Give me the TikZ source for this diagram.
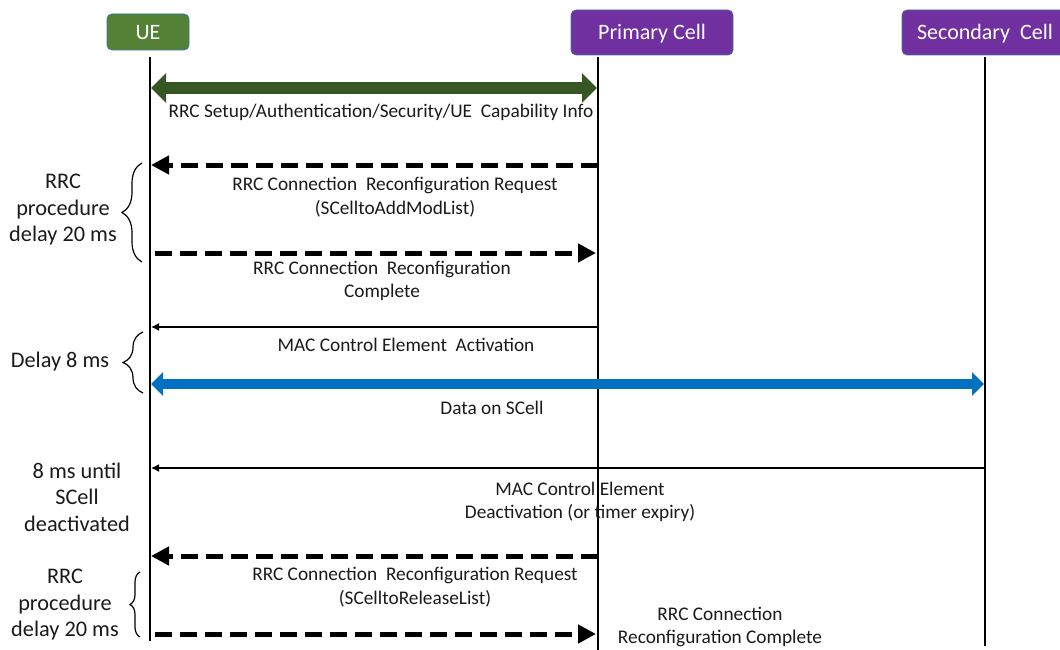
\documentclass[tikz,border=0pt]{standalone}
\usepackage{fontspec}
\setmainfont{Carlito}
\usetikzlibrary{arrows.meta,decorations.pathreplacing}
\definecolor{uegreen}{HTML}{538135}
\definecolor{boxedge}{HTML}{41719C}
\definecolor{cellpurple}{HTML}{7030A0}
\definecolor{setupgreen}{HTML}{375623}
\definecolor{datablue}{HTML}{0070C0}
\definecolor{txt}{HTML}{1A1A1A}
\tikzset{
  entity/.style={rounded corners=5pt, draw=boxedge, line width=0.8pt},
  entitytext/.style={text=white, font=\fontsize{22}{24}\selectfont, inner sep=0pt},
  lifeline/.style={line width=2.6pt, black},
  msg/.style={text=txt, align=center, font=\fontsize{19.3}{23.5}\selectfont, inner sep=0pt},
  side/.style={text=txt, align=center, font=\fontsize{22.3}{26.5}\selectfont, inner sep=0pt},
  setuparrow/.style={line width=12pt, setupgreen,
    {Triangle[length=15pt,width=29pt]}-{Triangle[length=15pt,width=29pt]}},
  dataarrow/.style={line width=10pt, datablue,
    {Triangle[length=12pt,width=23pt]}-{Triangle[length=12pt,width=23pt]}},
  rrcarrow/.style={line width=5pt, black, dash pattern=on 17pt off 8pt,
    -{Triangle[length=18pt,width=18pt]}},
  macarrow/.style={line width=1.5pt, black, -{Latex[length=8pt,width=8pt]}},
  span/.style={decorate, decoration={brace, amplitude=20pt}, line width=1.2pt, black}
}
\begin{document}
\begin{tikzpicture}[x=1pt,y=-1pt]
  \useasboundingbox (0,0) rectangle (1060,650);
  \clip (0,0) rectangle (1060,650);

  % entities
  \path[entity, fill=uegreen] (107,14) rectangle (189,50);
  \node[entitytext] (ue) at (148,33) {UE};
  \path[entity, fill=cellpurple] (571,10) rectangle (733,55);
  \node[entitytext] (pc) at (652,34) {Primary Cell};
  \path[entity, fill=cellpurple] (902,10) rectangle (1068,55);
  \node[entitytext] (sc) at (985,34) {Secondary\ \ Cell};

  % lifelines
  \coordinate (ueTop) at (150,57);  \coordinate (ueBot) at (150,641);
  \coordinate (pcTop) at (598,57);  \coordinate (pcBot) at (598,650);
  \coordinate (scTop) at (985,57);  \coordinate (scBot) at (985,646);
  \draw[lifeline] (ueTop) -- (ueBot);
  \draw[lifeline] (pcTop) -- (pcBot);
  \draw[lifeline] (scTop) -- (scBot);

  % message end points on the lifelines
  \coordinate (u1) at (151,88);  \coordinate (p1) at (597,88);
  \coordinate (u2) at (151,165); \coordinate (p2) at (598,165);
  \coordinate (u3) at (155,253); \coordinate (p3) at (596,253);
  \coordinate (u4) at (151,327); \coordinate (p4) at (597,327);
  \coordinate (u5) at (151,384); \coordinate (s5) at (984,384);
  \coordinate (u6) at (151,468); \coordinate (s6) at (985,468);
  \coordinate (u7) at (151,556); \coordinate (p7) at (598,556);
  \coordinate (u8) at (155,634); \coordinate (p8) at (596,634);

  % messages
  \draw[setuparrow] (u1) -- (p1);
  \node[msg] (l1) at (381,112) {RRC Setup/Authentication/Security/UE\ \ Capability Info};

  \draw[rrcarrow] (p2) -- (u2);
  \node[msg] (l2) at (395,197) {RRC Connection\ \ Reconfiguration Request\\(SCelltoAddModList)};

  \draw[rrcarrow] (u3) -- (p3);
  \node[msg] (l3) at (382,281) {RRC Connection\ \ Reconfiguration\\Complete};

  \draw[macarrow] (p4) -- (u4);
  \node[msg] (l4) at (406,345) {MAC Control Element\ \ Activation};

  \draw[dataarrow] (u5) -- (s5);
  \node[msg] (l5) at (492,408) {Data on SCell};

  \draw[macarrow] (s6) -- (u6);
  \node[msg] (l6) at (580,502) {MAC Control Element\\Deactivation (or timer expiry)};

  \draw[rrcarrow] (p7) -- (u7);
  \node[msg] (l7) at (415,587) {RRC Connection\ \ Reconfiguration Request\\(SCelltoReleaseList)};

  \draw[rrcarrow] (u8) -- (p8);
  \node[msg] (l8) at (720,627) {RRC Connection\\Reconfiguration Complete};

  % timing annotations
  \coordinate (b1t) at (142,163); \coordinate (b1b) at (142,262);
  \draw[span] (b1b) -- (b1t);
  \node[side] (t1) at (63,210) {RRC\\procedure\\delay 20 ms};

  \coordinate (b2t) at (143,332); \coordinate (b2b) at (143,393);
  \draw[span] (b2b) -- (b2t);
  \node[side] (t2) at (60,362) {Delay 8 ms};

  \node[side] (t3) at (77,497) {8 ms until\\SCell\\deactivated};

  \coordinate (b4t) at (140,572); \coordinate (b4b) at (140,637);
  \draw[span, decoration={brace, amplitude=10pt}] (b4b) -- (b4t);
  \node[side] (t4) at (65,605) {RRC\\procedure\\delay 20 ms};
\end{tikzpicture}
\end{document}
